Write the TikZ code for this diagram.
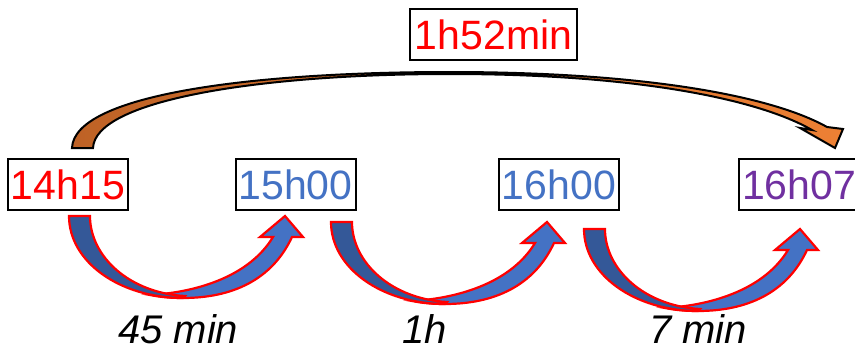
\documentclass[tikz,border=0pt]{standalone}
\usepackage{fontspec}
\setmainfont{Liberation Sans}
\definecolor{tred}{RGB}{255,0,0}
\definecolor{tblue}{RGB}{68,114,196}
\definecolor{tpurple}{RGB}{112,48,160}
\definecolor{bdark}{RGB}{52,88,152}
\definecolor{blight}{RGB}{68,114,196}
\definecolor{odark}{RGB}{190,98,38}
\definecolor{olight}{RGB}{237,128,52}
\tikzset{
  tbox/.style={draw=black, line width=2pt, inner sep=0pt, minimum width=120pt,
    minimum height=51pt, text height=29.4pt, text depth=0pt,
    font=\fontsize{41}{41}\selectfont},
  lab/.style={inner sep=0pt, text height=29pt, text depth=0pt,
    font=\fontsize{40}{40}\selectfont\itshape, text=black},
  bluelight/.style={fill=blight, draw=tred, line width=2.2pt, line join=miter},
  bluedark/.style={fill=bdark, draw=tred, line width=2.2pt, line join=miter},
}
\newcommand{\bluearrow}{%
  \path[bluelight] (150,295) .. controls (200,292) and (250,275) .. (273,237)
    -- (260,237) -- (285,216) -- (303,237) -- (292,237)
    .. controls (272,280) and (232,298) .. (183,298)
    .. controls (170,298) and (160,297) .. (150,295) -- cycle;
  \path[bluedark] (69,216) -- (90,216) .. controls (90,257) and (130,293) .. (185,296)
    -- (183,298) .. controls (120,298) and (69,262) .. (69,216) -- cycle;
}
\begin{document}
\begin{tikzpicture}[x=1pt,y=-1pt]
\useasboundingbox (0,0) rectangle (855,351);
% orange top arrow
\shadedraw[left color=odark, right color=olight, draw=black, line width=2pt, line join=miter]
  (72,148) .. controls (74,95) and (250,72) .. (450,72)
  .. controls (640,72) and (770,95) .. (827,127)
  -- (843,129) -- (835,148) -- (800,128) -- (812,130)
  .. controls (760,100) and (640,74) .. (450,74)
  .. controls (260,74) and (95,100) .. (93,148) -- cycle;
% blue arrows
\bluearrow
\begin{scope}[shift={(262,6)}]\bluearrow\end{scope}
\begin{scope}[shift={(515,13)}]\bluearrow\end{scope}
% time boxes
\node[tbox, text=tred] (t1) at (68,184.5) {14h15};
\node[tbox, text=tblue] (t2) at (295.5,184.5) {15h00};
\node[tbox, text=tblue] (t3) at (559,184.5) {16h00};
\node[tbox, text=tpurple] (t4) at (799,184.5) {16h07};
\node[tbox, text=tred, minimum width=167pt] (tot) at (493.5,34.5) {1h52min};
% duration labels
\node[lab, anchor=base west] (d1) at (118,343) {45 min};
\node[lab, anchor=base west] (d2) at (402,343) {1h};
\node[lab, anchor=base west] (d3) at (649,343) {7 min};
\end{tikzpicture}
\end{document}
